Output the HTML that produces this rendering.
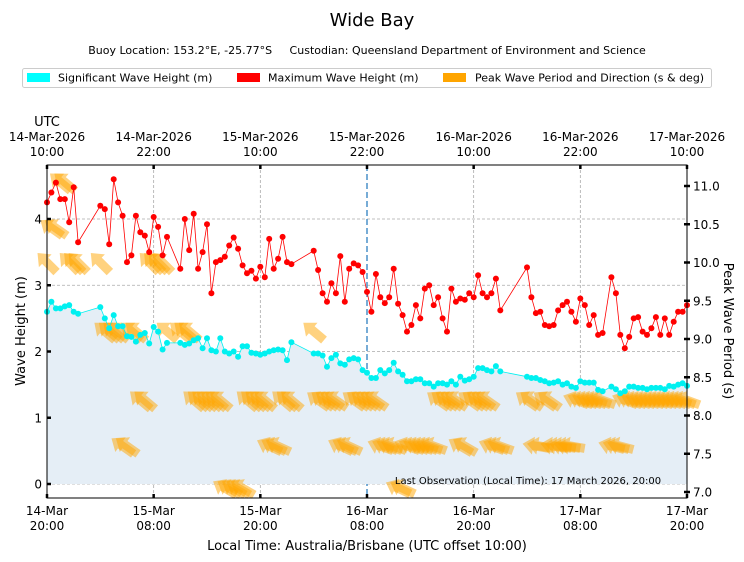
<!DOCTYPE html>
<html><head><meta charset="utf-8"><style>
body{margin:0;background:#fff;}
svg{display:block;font-family:"DejaVu Sans","Liberation Sans",sans-serif;}
</style></head><body>
<svg id="chart" width="744" height="562" viewBox="0 0 744 562" xmlns="http://www.w3.org/2000/svg">
<text x="372" y="26" text-anchor="middle" font-size="18">Wide Bay</text>
<text x="367" y="54" text-anchor="middle" font-size="11">Buoy Location: 153.2°E, -25.77°S&#160;&#160;&#160;&#160;&#160;Custodian: Queensland Department of Environment and Science</text>
<g>
<rect x="22.5" y="68.5" width="689" height="19" rx="2" fill="#fff" stroke="#ccc"/>
<g><rect x="27" y="73" width="23" height="9" fill="#00ffff"/><text x="58" y="81.5" font-size="11">Significant Wave Height (m)</text></g>
<g><rect x="237" y="73" width="23" height="9" fill="#ff0000"/><text x="268" y="81.5" font-size="11">Maximum Wave Height (m)</text></g>
<g><rect x="443" y="73" width="23" height="9" fill="#ffa500"/><text x="475" y="81.5" font-size="11">Peak Wave Period and Direction (s &amp; deg)</text></g>
</g>
<text x="47" y="126" text-anchor="middle" font-size="13">UTC</text>
<g id="grid"></g>
<g id="fill"></g>
<g id="arrows"></g>
<g id="series"></g>
<g id="axes"></g>
<text x="528" y="484" text-anchor="middle" font-size="10">Last Observation (Local Time): 17 March 2026, 20:00</text>
<text x="367" y="550" text-anchor="middle" font-size="13">Local Time: Australia/Brisbane (UTC offset 10:00)</text>
<text transform="translate(25,331) rotate(-90)" text-anchor="middle" font-size="13">Wave Height (m)</text>
<text transform="translate(724,331) rotate(90)" text-anchor="middle" font-size="13">Peak Wave Period (s)</text>
</svg>
<script>
const hours = [0,0.5,1,1.5,2,2.5,3,3.5,
6,6.5,7,7.5,8,8.5,9,9.5,10,10.5,11,11.5,12,12.5,13,13.5,
15,15.5,16,16.5,17,17.5,18,18.5,19,19.5,20,20.5,21,21.5,22,22.5,23,23.5,24,24.5,25,25.5,26,26.5,27,27.5,
30,30.5,31,31.5,32,32.5,33,33.5,34,34.5,35,35.5,36,36.5,37,37.5,38,38.5,39,39.5,40,40.5,41,41.5,42,42.5,43,43.5,44,44.5,45,45.5,46,46.5,47,47.5,48,48.5,49,49.5,50,50.5,51,
54,54.5,55,55.5,56,56.5,57,57.5,58,58.5,59,59.5,60,60.5,61,61.5,62,62.5,
63.5,64,64.5,65,65.5,66,66.5,67,67.5,68,68.5,69,69.5,70,70.5,71,71.5,72];
const hmax = [4.25,4.4,4.55,4.3,4.3,3.95,4.48,3.65,
4.2,4.15,3.62,4.6,4.25,4.05,3.35,3.45,4.05,3.8,3.75,3.5,4.03,3.88,3.45,3.73,
3.25,4.0,3.53,4.08,3.25,3.5,3.92,2.88,3.35,3.38,3.43,3.6,3.72,3.55,3.3,3.18,3.22,3.1,3.28,3.12,3.7,3.25,3.4,3.73,3.35,3.32,
3.52,3.23,2.88,2.75,3.03,2.88,3.44,2.75,3.25,3.33,3.3,3.2,2.9,2.6,3.17,2.82,2.73,2.82,3.25,2.72,2.55,2.3,2.4,2.7,2.5,2.95,3.0,2.7,2.82,2.5,2.3,2.95,2.75,2.8,2.78,2.88,2.82,3.15,2.88,2.82,2.88,3.1,2.62,
3.27,2.82,2.58,2.6,2.4,2.38,2.4,2.62,2.7,2.75,2.6,2.45,2.8,2.7,2.4,2.55,2.25,2.28,
3.12,2.88,2.25,2.05,2.22,2.5,2.52,2.3,2.25,2.35,2.52,2.25,2.5,2.25,2.45,2.6,2.6,2.7];
const hsig = [2.6,2.75,2.65,2.65,2.68,2.7,2.6,2.57,
2.67,2.5,2.35,2.55,2.38,2.38,2.23,2.22,2.15,2.25,2.28,2.12,2.37,2.3,2.03,2.13,
2.13,2.1,2.12,2.17,2.2,2.05,2.2,2.02,2.0,2.2,2.0,1.97,2.0,1.92,2.08,2.08,1.98,1.97,1.95,1.97,2.0,2.02,2.03,2.02,1.87,2.14,
1.97,1.97,1.94,1.77,1.9,1.95,1.82,1.8,1.88,1.9,1.88,1.72,1.68,1.6,1.6,1.72,1.67,1.72,1.83,1.7,1.65,1.55,1.55,1.58,1.58,1.52,1.52,1.47,1.52,1.52,1.5,1.55,1.5,1.62,1.56,1.58,1.62,1.75,1.75,1.72,1.7,1.78,1.7,
1.62,1.6,1.6,1.57,1.55,1.52,1.53,1.55,1.5,1.52,1.47,1.45,1.55,1.53,1.53,1.53,1.42,1.4,
1.47,1.43,1.37,1.4,1.47,1.47,1.45,1.45,1.43,1.45,1.45,1.45,1.43,1.48,1.47,1.5,1.52,1.48];
const period = [10.0,10.45,10.45,11.05,11.05,10.0,10.0,10.0,
10.0,9.1,9.1,9.1,9.1,7.6,7.6,9.1,9.1,8.2,8.2,10.0,10.0,10.0,10.0,9.1,
9.1,9.1,9.1,8.2,8.2,8.2,8.2,8.2,8.2,8.2,7.05,7.05,7.05,7.05,7.05,8.2,8.2,8.2,8.2,8.2,7.6,7.6,7.6,8.2,8.2,8.2,
9.1,8.2,8.2,8.2,8.2,8.2,7.6,7.6,7.6,8.2,8.2,8.2,8.2,8.2,8.2,7.6,7.6,7.6,7.6,7.05,7.05,7.6,7.6,7.6,7.6,7.6,7.6,7.6,8.2,8.2,8.2,8.2,8.2,7.6,7.6,8.2,8.2,8.2,8.2,8.2,7.6,7.6,7.6,
8.2,8.2,7.6,7.6,8.2,8.2,7.6,7.6,7.6,7.6,7.6,8.2,8.2,8.2,8.2,8.2,8.2,8.2,
7.6,7.6,7.6,8.2,8.2,8.2,8.2,8.2,8.2,8.2,8.2,8.2,8.2,8.2,8.2,8.2,8.2,8.2];
const direction = [135,125,125,130,130,135,135,135,
135,130,130,130,130,125,125,130,130,130,130,135,135,135,135,130,
130,130,130,130,130,130,130,130,130,130,120,120,120,120,120,130,130,130,130,130,115,115,115,130,130,130,
130,125,125,125,125,125,115,115,115,125,125,125,125,125,125,110,110,110,110,115,115,110,110,110,110,110,110,110,125,125,125,125,125,120,120,125,125,125,125,125,110,110,110,
125,125,100,100,125,125,100,100,100,100,100,110,110,110,110,110,110,110,
105,105,105,110,110,110,110,110,110,110,110,110,110,110,110,110,110,110];
const leftTicks = [0,1,2,3,4];
const rightTicks = [7.0,7.5,8.0,8.5,9.0,9.5,10.0,10.5,11.0];
const xTickHours = [0,12,24,36,48,60,72];
const bottomLabels = [["14-Mar","20:00"],["15-Mar","08:00"],["15-Mar","20:00"],["16-Mar","08:00"],["16-Mar","20:00"],["17-Mar","08:00"],["17-Mar","20:00"]];
const topLabels = [["14-Mar-2026","10:00"],["14-Mar-2026","22:00"],["15-Mar-2026","10:00"],["15-Mar-2026","22:00"],["16-Mar-2026","10:00"],["16-Mar-2026","22:00"],["17-Mar-2026","10:00"]];
const lastObsHour = 36;

const NS="http://www.w3.org/2000/svg";
const X0=47,X1=687,Y0=165,Y1=498;
const xs=h=>X0+(X1-X0)*h/72;
const yl=v=>484-v*66.25;
const yr=p=>186+(11-p)*76.5;
function mk(tag,attrs,parent){const e=document.createElementNS(NS,tag);for(const k in attrs)e.setAttribute(k,attrs[k]);parent.appendChild(e);return e;}
const grid=document.getElementById('grid'),fill=document.getElementById('fill'),arrows=document.getElementById('arrows'),series=document.getElementById('series'),axes=document.getElementById('axes');

let d='M'+xs(hours[0])+','+yl(0);
hours.forEach((h,i)=>{d+=' L'+xs(h).toFixed(1)+','+yl(hsig[i]).toFixed(1);});
d+=' L'+xs(hours[hours.length-1])+','+yl(0)+' Z';
const f=mk('path',{d:d,fill:'#e5eef6'},fill);



leftTicks.forEach(v=>{const l=mk('line',{x1:X0,x2:X1,y1:yl(v),y2:yl(v),stroke:'#aaa','stroke-dasharray':'3,2','stroke-width':0.8},grid);

});
xTickHours.forEach(h=>{if(h===0||h===72||h===lastObsHour)return;const l=mk('line',{x1:xs(h),x2:xs(h),y1:Y0,y2:Y1,stroke:'#aaa','stroke-dasharray':'3,2','stroke-width':0.8},grid);

});
const lo=mk('line',{x1:xs(lastObsHour),x2:xs(lastObsHour),y1:Y0,y2:Y1,stroke:'#4a90c8','stroke-dasharray':'6,3','stroke-width':1.5},grid);



hours.forEach((h,i)=>{
 const cx=xs(h),cy=yr(period[i]);
 const a=(direction[i]+180)*Math.PI/180;
 const ux=Math.sin(a),uy=-Math.cos(a);
 const L=27,hx=cx+ux*L/2,hy=cy+uy*L/2,tx=cx-ux*L/2,ty=cy-uy*L/2;
 const px=-uy,py=ux,w=4.5,hw=9,hl=11;
 const bx=hx-ux*hl,by=hy-uy*hl;
 const pts=[[tx+px*w,ty+py*w],[bx+px*w,by+py*w],[bx+px*hw,by+py*hw],[hx,hy],[bx-px*hw,by-py*hw],[bx-px*w,by-py*w],[tx-px*w,ty-py*w]];
 const p=mk('polygon',{points:pts.map(q=>q[0].toFixed(1)+','+q[1].toFixed(1)).join(' '),fill:'#ffa500','fill-opacity':0.5},arrows);
 
 
});

function line(vals,color,name){
 const pl=mk('polyline',{points:hours.map((h,i)=>xs(h).toFixed(1)+','+yl(vals[i]).toFixed(1)).join(' '),fill:'none',stroke:color,'stroke-width':0.8},series);
 
 
 hours.forEach((h,i)=>{const c=mk('circle',{cx:xs(h).toFixed(1),cy:yl(vals[i]).toFixed(1),r:3,fill:color},series);
 
 });
}
line(hsig,'#00f0f0','sig-height');
line(hmax,'#ff0000','max-height');

const fr=mk('rect',{x:X0,y:Y0,width:X1-X0,height:Y1-Y0,fill:'none',stroke:'#000','stroke-width':1},axes);


leftTicks.forEach(v=>{
 mk('line',{x1:X0,x2:X0+4,y1:yl(v),y2:yl(v),stroke:'#000','stroke-width':2.5},axes);
 const t=mk('text',{x:X0-5,y:yl(v)+4.5,'text-anchor':'end','font-size':12},axes);t.textContent=v;
 
 
});
rightTicks.forEach(p=>{
 mk('line',{x1:X1-3,x2:X1+3,y1:yr(p),y2:yr(p),stroke:'#000','stroke-width':2.5},axes);
 const t=mk('text',{x:X1+6,y:yr(p)+4.5,'font-size':12},axes);t.textContent=p.toFixed(1);
 
 
});
xTickHours.forEach((h,i)=>{
 const x=xs(h);
 mk('line',{x1:x,x2:x,y1:Y0,y2:Y0+4,stroke:'#000','stroke-width':2.5},axes);
 mk('line',{x1:x,x2:x,y1:Y1-4,y2:Y1,stroke:'#000','stroke-width':2.5},axes);
 const b=mk('text',{x:x,y:515,'text-anchor':'middle','font-size':12},axes);
 
 
 mk('tspan',{x:x,dy:0},b).textContent=bottomLabels[i][0];
 mk('tspan',{x:x,dy:15},b).textContent=bottomLabels[i][1];
 const t=mk('text',{x:x,y:141,'text-anchor':'middle','font-size':12},axes);
 
 
 mk('tspan',{x:x,dy:0},t).textContent=topLabels[i][0];
 mk('tspan',{x:x,dy:15},t).textContent=topLabels[i][1];
});
</script>
</body></html>
